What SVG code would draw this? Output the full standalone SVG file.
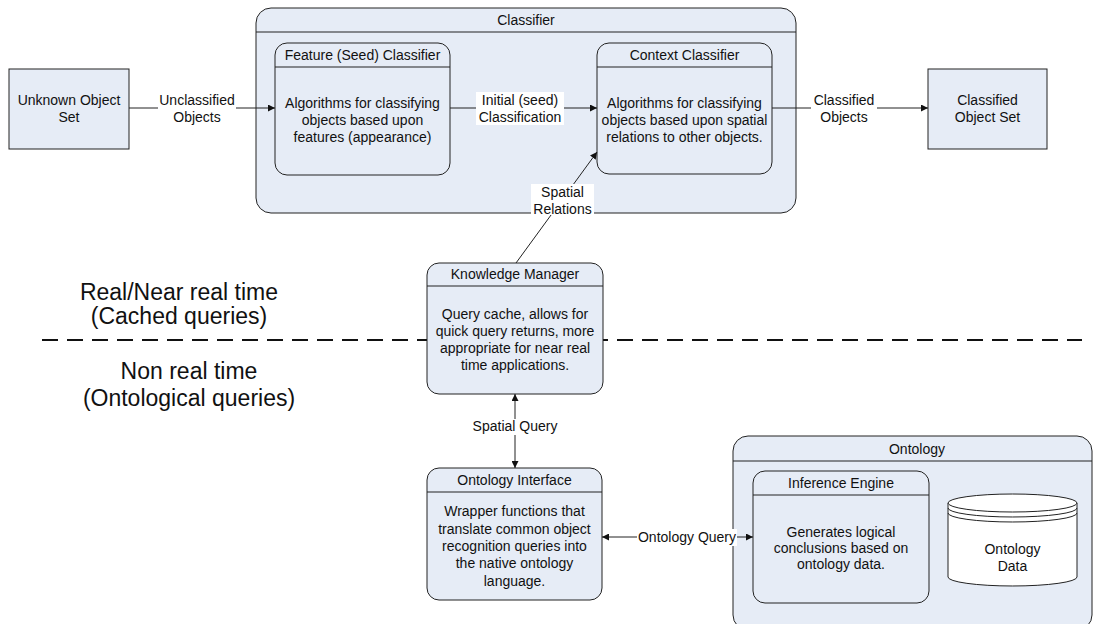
<svg xmlns="http://www.w3.org/2000/svg" width="1094" height="624" viewBox="0 0 1094 624">
<style>
.box{fill:#E6ECF6;stroke:#222;stroke-width:1}
.ln{fill:none;stroke:#222;stroke-width:1}
.t{font-family:"Liberation Sans",Arial,sans-serif;font-size:14px;fill:#111;text-anchor:middle}
.big{font-family:"Liberation Sans",Arial,sans-serif;font-size:23px;fill:#111;text-anchor:middle}
.lbl{fill:#fff}
</style>
<defs>
<marker id="ah" viewBox="0 0 8 8" refX="8" refY="4" markerWidth="7" markerHeight="7" orient="auto-start-reverse" markerUnits="userSpaceOnUse">
<path d="M0,0 L8,4 L0,8 Z" fill="#111"/>
</marker>
</defs>
<rect width="1094" height="624" fill="#fff"/>

<g id="divider">
<line x1="42" y1="340" x2="1082" y2="340" stroke="#111" stroke-width="2" stroke-dasharray="16,9"/>
<text class="big" x="179" y="300">Real/Near real time</text>
<text class="big" x="179" y="324">(Cached queries)</text>
<text class="big" x="189" y="379">Non real time</text>
<text class="big" x="189" y="406">(Ontological queries)</text>
</g>

<g id="classifier">
<rect class="box" x="256" y="8" width="540" height="205" rx="15"/>
<line class="ln" x1="256" y1="32" x2="796" y2="32"/>
<text class="t" x="526" y="25">Classifier</text>
</g>

<g id="feature-classifier">
<rect class="box" x="275" y="43" width="175" height="132" rx="12"/>
<line class="ln" x1="275" y1="67" x2="450" y2="67"/>
<text class="t" x="362.5" y="60">Feature (Seed) Classifier</text>
<text class="t" x="362.5" y="108">Algorithms for classifying</text>
<text class="t" x="362.5" y="125">objects based upon</text>
<text class="t" x="362.5" y="142">features (appearance)</text>
</g>

<g id="context-classifier">
<rect class="box" x="597" y="43" width="175" height="131" rx="12"/>
<line class="ln" x1="597" y1="67" x2="772" y2="67"/>
<text class="t" x="684.5" y="60">Context Classifier</text>
<text class="t" x="684.5" y="108">Algorithms for classifying</text>
<text class="t" x="684.5" y="125">objects based upon spatial</text>
<text class="t" x="684.5" y="142">relations to other objects.</text>
</g>

<g id="unknown-object-set">
<rect class="box" x="9" y="69" width="120" height="80"/>
<text class="t" x="69" y="105">Unknown Object</text>
<text class="t" x="69" y="122">Set</text>
</g>

<g id="classified-object-set">
<rect class="box" x="928" y="69" width="119" height="80"/>
<text class="t" x="987.5" y="105">Classified</text>
<text class="t" x="987.5" y="122">Object Set</text>
</g>

<g id="knowledge-manager">
<rect class="box" x="427" y="263" width="176" height="131" rx="12"/>
<line class="ln" x1="427" y1="286" x2="603" y2="286"/>
<text class="t" x="515" y="279">Knowledge Manager</text>
<text class="t" x="515" y="319">Query cache, allows for</text>
<text class="t" x="515" y="336">quick query returns, more</text>
<text class="t" x="515" y="353">appropriate for near real</text>
<text class="t" x="515" y="370">time applications.</text>
</g>

<g id="ontology-interface">
<rect class="box" x="427" y="468" width="175" height="132" rx="12"/>
<line class="ln" x1="427" y1="492" x2="602" y2="492"/>
<text class="t" x="514.5" y="485">Ontology Interface</text>
<text class="t" x="514.5" y="516">Wrapper functions that</text>
<text class="t" x="514.5" y="534">translate common object</text>
<text class="t" x="514.5" y="551">recognition queries into</text>
<text class="t" x="514.5" y="568">the native ontology</text>
<text class="t" x="514.5" y="586">language.</text>
</g>

<g id="ontology">
<rect class="box" x="733" y="436" width="359" height="194" rx="15"/>
<line class="ln" x1="733" y1="461" x2="1092" y2="461"/>
<text class="t" x="917" y="454">Ontology</text>
</g>

<g id="inference-engine">
<rect class="box" x="753" y="471" width="176" height="132" rx="12"/>
<line class="ln" x1="753" y1="495" x2="929" y2="495"/>
<text class="t" x="841" y="488">Inference Engine</text>
<text class="t" x="841" y="537">Generates logical</text>
<text class="t" x="841" y="553">conclusions based on</text>
<text class="t" x="841" y="569">ontology data.</text>
</g>

<g id="ontology-data">
<path d="M948,503 L948,577 A64.5,9 0 0 0 1077,577 L1077,503" fill="#fff" stroke="#222"/>
<ellipse cx="1012.5" cy="503" rx="64.5" ry="9" fill="#fff" stroke="#222"/>
<path class="ln" d="M948,508 A64.5,9 0 0 0 1077,508"/>
<path class="ln" d="M948,513 A64.5,9 0 0 0 1077,513"/>
<text class="t" x="1012.5" y="554">Ontology</text>
<text class="t" x="1012.5" y="571">Data</text>
</g>

<g id="connectors">
<line class="ln" x1="129" y1="108" x2="275" y2="108" marker-end="url(#ah)"/>
<rect class="lbl" x="158" y="92" width="78" height="33"/>
<text class="t" x="197" y="105">Unclassified</text>
<text class="t" x="197" y="122">Objects</text>

<line class="ln" x1="450" y1="108" x2="597" y2="108" marker-end="url(#ah)"/>
<rect class="lbl" x="476" y="92" width="88" height="33"/>
<text class="t" x="520" y="105">Initial (seed)</text>
<text class="t" x="520" y="122">Classification</text>

<line class="ln" x1="772" y1="108" x2="928" y2="108" marker-end="url(#ah)"/>
<rect class="lbl" x="811" y="92" width="66" height="33"/>
<text class="t" x="844" y="105">Classified</text>
<text class="t" x="844" y="122">Objects</text>

<line class="ln" x1="516" y1="263" x2="597" y2="152" marker-end="url(#ah)"/>
<rect class="lbl" x="531" y="184" width="63" height="31"/>
<text class="t" x="562.5" y="197">Spatial</text>
<text class="t" x="562.5" y="214">Relations</text>

<line class="ln" x1="515" y1="394" x2="515" y2="468" marker-start="url(#ah)" marker-end="url(#ah)"/>
<rect class="lbl" x="471" y="419" width="88" height="16"/>
<text class="t" x="515" y="431">Spatial Query</text>

<line class="ln" x1="602" y1="537" x2="753" y2="537" marker-start="url(#ah)" marker-end="url(#ah)"/>
<rect class="lbl" x="637" y="529" width="100" height="17"/>
<text class="t" x="687" y="542">Ontology Query</text>
</g>
</svg>
